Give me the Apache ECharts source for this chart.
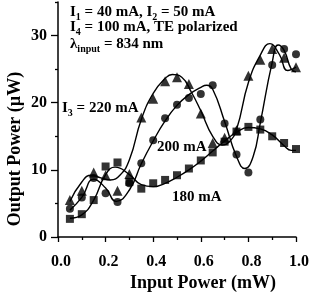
<!DOCTYPE html>
<html>
<head>
<meta charset="utf-8">
<script src="https://cdn.jsdelivr.net/npm/echarts@6.0.0/dist/echarts.min.js"></script>
<style>
  html, body { margin: 0; padding: 0; background: #fff; }
  #chart { width: 312px; height: 293px; }
</style>
</head>
<body>
<div id="chart"></div>
<script>
// measured points (input power in mW, output power in uW)
const inputPower = [0.05, 0.10, 0.15, 0.20, 0.25, 0.30, 0.35, 0.40, 0.45, 0.50,
                    0.55, 0.60, 0.65, 0.70, 0.75, 0.80, 0.85, 0.90, 0.95, 1.00];
const power220 = [5.5, 6.9, 9.6, 9.2, 6.9, 9.4, 17.8, 20.6, 23.2, 23.8,
                  22.8, 18.4, 14.0, 14.8, 15.9, 24.0, 26.4, 28.0, 26.7, 25.3];
const power200 = [4.2, 5.9, 8.8, 6.5, 5.2, 8.0, 11.0, 14.4, 17.7, 19.7,
                  20.7, 21.3, 22.6, 16.9, 12.3, 9.6, 17.5, 25.6, 28.0, 27.2];
const power180 = [2.7, 3.4, 5.5, 10.5, 11.1, 8.2, 7.2, 8.0, 8.5, 9.2,
                  10.2, 11.4, 12.6, 14.2, 15.7, 16.4, 16.0, 15.0, 14.0, 13.1];

// fitted curves
const fitX220 = [0.05, 0.10, 0.14, 0.18, 0.22, 0.26, 0.30, 0.35, 0.40, 0.45, 0.48, 0.52, 0.56,
                 0.60, 0.65, 0.69, 0.72, 0.75, 0.80, 0.85, 0.89, 0.93, 0.965, 1.00];
const fitY220 = [5.3, 8.2, 9.2, 8.8, 8.5, 9.2, 11.5, 17.5, 21.4, 23.6, 24.2, 23.8, 21.6,
                 18.8, 15.0, 13.7, 14.2, 16.0, 23.0, 27.1, 28.8, 27.2, 24.8, 25.3];
const fitX200 = [0.05, 0.10, 0.15, 0.20, 0.245, 0.30, 0.35, 0.40, 0.45, 0.50, 0.55, 0.60, 0.625,
                 0.65, 0.70, 0.75, 0.785, 0.82, 0.85, 0.90, 0.925, 0.95, 0.98, 1.00];
const fitY200 = [4.0, 5.9, 8.6, 7.3, 5.3, 7.0, 10.9, 14.3, 17.3, 19.6, 21.2, 22.3, 22.6,
                 22.0, 17.2, 12.0, 10.2, 12.0, 17.0, 26.0, 28.6, 27.8, 25.0, 24.6];
const fitX180 = [0.05, 0.10, 0.15, 0.20, 0.24, 0.30, 0.35, 0.40, 0.45, 0.50, 0.55, 0.60,
                 0.65, 0.70, 0.75, 0.80, 0.85, 0.90, 0.95, 0.98, 1.00];
const fitY180 = [2.8, 3.3, 5.5, 9.3, 10.4, 9.3, 7.8, 7.5, 8.0, 8.9, 10.0, 11.3,
                 12.8, 14.3, 15.6, 16.3, 16.1, 15.2, 13.6, 12.9, 12.9];

// tick values
const yMajorTicks = [0, 10, 20, 30];
const yMinorTicks = [5, 15, 25, 35];

const serif = '"Liberation Serif", "Times New Roman", serif';
const black = '#000';

function pairs(xs, ys) {
  return xs.map((x, i) => [x, ys[i]]);
}

const chart = echarts.init(document.getElementById('chart'), null, { renderer: 'canvas' });

const axisLine = { show: true, lineStyle: { color: black, width: 1.5 } };
const labelStyle = { color: black, fontFamily: serif, fontWeight: 'bold', fontSize: 16 };

function markSeries(name, data, symbol, size) {
  return {
    name: name, type: 'scatter', data: pairs(inputPower, data),
    symbol: symbol, symbolSize: size,
    itemStyle: { color: black }, z: 3
  };
}
function fitSeries(xs, ys) {
  return {
    type: 'line', data: pairs(xs, ys), smooth: true, showSymbol: false,
    lineStyle: { color: black, width: 1.4 }, z: 2, silent: true
  };
}

const sub = { fontFamily: serif, fontWeight: 'bold', fontSize: 10, lineHeight: 10, verticalAlign: 'bottom', fill: black };
const main = { fontFamily: serif, fontWeight: 'bold', fontSize: 15, lineHeight: 20, fill: black };

function note(x, y, text) {
  return {
    type: 'text', x: x, y: y,
    style: { text: text, rich: { a: main, s: sub }, fill: black, verticalAlign: 'top', align: 'left' }
  };
}

const option = {
  animation: false,
  backgroundColor: '#fff',
  grid: { left: 58, right: 15, top: 2, bottom: 56 },
  xAxis: {
    type: 'value', min: 0, max: 1, interval: 0.2,
    axisLine: axisLine,
    axisTick: { show: true, length: 5, lineStyle: { color: black, width: 1.3 } },
    minorTick: { show: true, splitNumber: 2, length: 3, lineStyle: { color: black, width: 1.3 } },
    axisLabel: Object.assign({ margin: 17, padding: [0, 0, 0, 6], formatter: v => v.toFixed(1) }, labelStyle),
    splitLine: { show: false }
  },
  yAxis: [
    {
      type: 'value', min: 0, max: 35, interval: 5,
      axisLine: axisLine,
      axisTick: { show: true, length: 3, customValues: yMinorTicks, lineStyle: { color: black, width: 1.3 } },
      axisLabel: { show: false },
      splitLine: { show: false }
    },
    {
      type: 'value', min: 0, max: 35, interval: 5, position: 'left',
      axisLine: { show: false },
      axisTick: { show: true, length: 7, customValues: yMajorTicks, lineStyle: { color: black, width: 1.3 } },
      axisLabel: Object.assign({ margin: 11, customValues: yMajorTicks }, labelStyle),
      splitLine: { show: false }
    }
  ],
  series: [
    fitSeries(fitX220, fitY220),
    fitSeries(fitX200, fitY200),
    fitSeries(fitX180, fitY180),
    markSeries('220 mA', power220, 'triangle', 10),
    markSeries('200 mA', power200, 'circle', 8),
    markSeries('180 mA', power180, 'rect', 8)
  ],
  graphic: [
    note(70, 2.5, '{a|I}{s|1}{a| = 40 mA, I}{s|2}{a| = 50 mA}'),
    note(70, 17.5, '{a|I}{s|4}{a| = 100 mA, TE polarized}'),
    note(70, 34, '{a|λ}{s|input}{a| = 834 nm}'),
    note(62, 98.5, '{a|I}{s|3}{a| = 220 mA}'),
    note(157, 137.5, '{a|200 mA}'),
    note(172, 187.5, '{a|180 mA}'),
    {
      type: 'text', x: 15, y: 149, rotation: Math.PI / 2,
      style: { text: 'Output Power (\u00b5W)', fill: black, font: 'bold 18px ' + serif, align: 'center', verticalAlign: 'middle' }
    },
    {
      type: 'text', x: 203, y: 283,
      style: { text: 'Input Power (mW)', fill: black, font: 'bold 18px ' + serif, align: 'center', verticalAlign: 'middle' }
    }
  ]
};

chart.setOption(option);
</script>
</body>
</html>
